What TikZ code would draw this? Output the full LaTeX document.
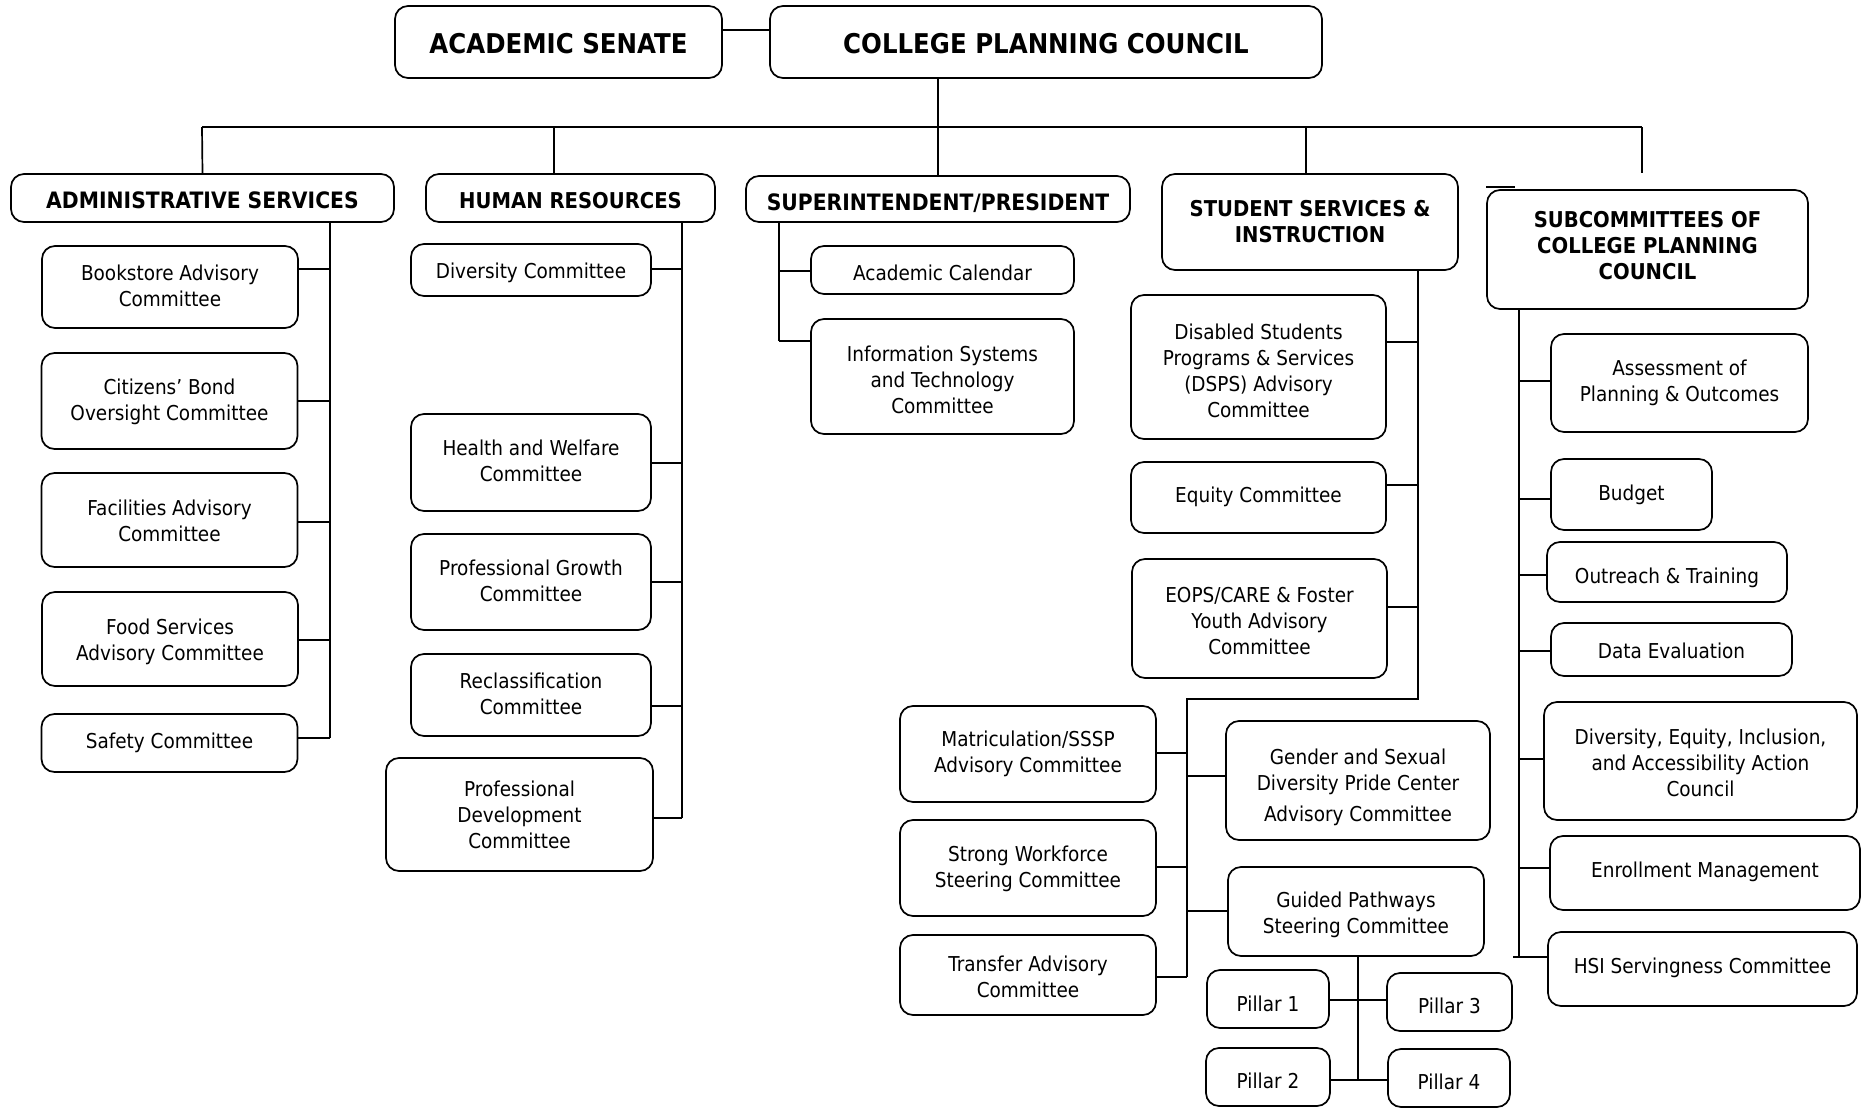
\documentclass[tikz,border=0pt]{standalone}
\usepackage{fontspec}
\setmainfont{DejaVu Sans}[FakeStretch=0.9]
% \orgbox[text drop]{style}{name}{centre}{width}{height}{text}
\newcommand\orgbox[7][0]{\node[#2, minimum width=#5pt, minimum height=#6pt] (#3) at (#4)
  {\raisebox{-#1pt}[\height][\depth]{\begin{tabular}{@{}c@{}}#7\end{tabular}}};}
\begin{document}
\begin{tikzpicture}[x=1pt, y=-1pt,
  box/.style={draw, line width=1.7pt, rounded corners=13pt, inner sep=0pt,
              font=\fontsize{20.5}{26}\selectfont},
  head/.style={box, font=\fontsize{21.8}{26}\selectfont\bfseries},
  headwide/.style={box, font=\fontsize{22.6}{26}\selectfont\bfseries},
  top/.style={box, font=\fontsize{27.2}{30}\selectfont\bfseries},
  link/.style={line width=1.7pt}]
\useasboundingbox (0,0) rectangle (1864,1108);

% ---------- top level ----------
\orgbox[5.8]{top}{senate}{558.5,42}{327}{72}{ACADEMIC SENATE}
\orgbox[5.8]{top}{cpc}{1046,42}{552}{72}{COLLEGE PLANNING COUNCIL}

% ---------- divisions ----------
\orgbox[5]{headwide}{adm}{202.5,198}{383}{48}{ADMINISTRATIVE SERVICES}
\orgbox[5]{head}{hr}{570.5,198}{289}{48}{HUMAN RESOURCES}
\orgbox[6.2]{headwide}{supt}{938,199}{384}{46}{SUPERINTENDENT/PRESIDENT}
\orgbox[2.4]{head}{ssi}{1310,222}{296}{96}{STUDENT SERVICES \&\\INSTRUCTION}
\orgbox[-1.1]{head}{sub}{1647.5,249.5}{321}{119}{SUBCOMMITTEES OF\\COLLEGE PLANNING\\COUNCIL}

% ---------- administrative services ----------
\orgbox[1.2]{box}{bk}{170,287}{256}{82}{Bookstore Advisory\\Committee}
\orgbox[1.2]{box}{cb}{169.5,401}{256}{96}{Citizens’ Bond\\Oversight Committee}
\orgbox[3.2]{box}{fa}{169.5,520}{256}{94}{Facilities Advisory\\Committee}
\orgbox[3.5]{box}{fs}{170,639}{256}{94}{Food Services\\Advisory Committee}
\orgbox{box}{sf}{169.5,743}{256}{58}{Safety Committee}

% ---------- human resources ----------
\orgbox[3.5]{box}{dv}{531,270}{240}{52}{Diversity Committee}
\orgbox[0.4]{box}{hw}{531,462.5}{240}{97}{Health and Welfare\\Committee}
\orgbox[1.2]{box}{pg}{531,582}{240}{96}{Professional Growth\\Committee}
\orgbox[1.2]{box}{rc}{531,695}{240}{82}{Reclassification\\Committee}
\orgbox[2.4]{box}{pd}{519.5,814.5}{267}{113}{Professional\\Development\\Committee}

% ---------- superintendent/president ----------
\orgbox[4.9]{box}{ac}{942.5,270}{263}{48}{Academic Calendar}
\orgbox[5.9]{box}{ist}{942.5,376.5}{263}{115}{Information Systems\\and Technology\\Committee}

% ---------- student services & instruction ----------
\orgbox[5.9]{box}{dsps}{1258.5,367}{255}{144}{Disabled Students\\Programs \& Services\\(DSPS) Advisory\\Committee}
\orgbox{box}{eq}{1258.5,497.5}{255}{71}{Equity Committee}
\orgbox[4.7]{box}{eops}{1259.5,618.5}{255}{119}{EOPS/CARE \& Foster\\Youth Advisory\\Committee}
\orgbox{box}{mat}{1028,754}{256}{96}{Matriculation/SSSP\\Advisory Committee}
\orgbox[1.2]{box}{sw}{1028,868}{256}{96}{Strong Workforce\\Steering Committee}
\orgbox[4.4]{box}{tr}{1028,975}{256}{80}{Transfer Advisory\\Committee}
\orgbox[7]{box}{gs}{1358,780.5}{264}{119}{Gender and Sexual\\Diversity Pride Center\\[5pt]Advisory Committee}
\orgbox[3.5]{box}{gp}{1356,911.5}{256}{89}{Guided Pathways\\Steering Committee}
\orgbox[7.1]{box}{pa}{1268,999}{122}{58}{Pillar 1}
\orgbox[5.9]{box}{pc}{1449.5,1002}{125}{58}{Pillar 3}
\orgbox[5.9]{box}{pb}{1268,1077}{124}{58}{Pillar 2}
\orgbox[5.9]{box}{pe}{1449,1078}{122}{58}{Pillar 4}

% ---------- subcommittees ----------
\orgbox{box}{ap}{1679.5,383}{257}{98}{Assessment of\\Planning \& Outcomes}
\orgbox[1.2]{box}{bu}{1631.5,494.5}{161}{71}{Budget}
\orgbox[6]{box}{ot}{1667,572}{240}{60}{Outreach \& Training}
\orgbox[3.6]{box}{de}{1671.5,649.5}{241}{53}{Data Evaluation}
\orgbox[4.4]{box}{dei}{1700.5,761}{313}{118}{Diversity, Equity, Inclusion,\\and Accessibility Action\\Council}
\orgbox[-1]{box}{em}{1705,873}{310}{74}{Enrollment Management}
\orgbox[-1]{box}{hsi}{1702.5,969}{309}{74}{HSI Servingness Committee}

% ---------- junction points ----------
\coordinate (sc) at (722,30);
\coordinate (busL) at (202,127);
\coordinate (busR) at (1642,127);
\coordinate (hrdrop) at (554,127);
\coordinate (ssidrop) at (1306,127);
\coordinate (subdrop) at (1642,173);
% trunk columns
\coordinate (tadm) at (330,0);
\coordinate (thr) at (682,0);
\coordinate (tsupt) at (779,0);
\coordinate (tssi) at (1418,0);
\coordinate (tpil) at (1358,0);
\coordinate (tsub) at (1519,0);

% ---------- connectors: top ----------
\draw[link] (senate.east |- sc) -- (cpc.west |- sc);
\draw[link] (cpc.south -| supt.north) -- (supt.north);
\draw[link] (busL) -- (busR);
\draw[link] (busL) -- (adm.north);
\draw[link] (hrdrop) -- (hrdrop |- hr.north);
\draw[link] (ssidrop) -- (ssidrop |- ssi.north);
\draw[link] (busR) -- (subdrop);
\draw[link] ([yshift=2pt]sub.north west) -- ++(29,0);

% ---------- connectors: administrative services ----------
\draw[link] (tadm |- adm.south) -- (330,738);
\draw[link] (bk.east |- 0,269) -- (330,269);
\draw[link] (cb.east) -- (tadm |- cb.east);
\draw[link] (fa.east |- 0,522) -- (330,522);
\draw[link] (fs.east |- 0,640) -- (330,640);
\draw[link] (sf.east |- 0,738) -- (330,738);

% ---------- connectors: human resources ----------
\draw[link] (thr |- hr.south) -- (682,818);
\draw[link] (dv.east |- 0,269) -- (682,269);
\draw[link] (hw.east |- 0,463) -- (682,463);
\draw[link] (pg.east) -- (thr |- pg.east);
\draw[link] (rc.east |- 0,706) -- (682,706);
\draw[link] (pd.east |- 0,818) -- (682,818);

% ---------- connectors: superintendent/president ----------
\draw[link] (tsupt |- supt.south) -- (779,341);
\draw[link] (ac.west |- 0,271) -- (779,271);
\draw[link] (ist.west |- 0,341) -- (779,341);

% ---------- connectors: student services & instruction ----------
\draw[link] (tssi |- ssi.south) -- (1418,699) -- (1187,699) -- (1187,977);
\draw[link] (dsps.east |- 0,342) -- (1418,342);
\draw[link] (eq.east |- 0,485) -- (1418,485);
\draw[link] (eops.east |- 0,607) -- (1418,607);
\draw[link] (mat.east |- 0,753) -- (1187,753);
\draw[link] (sw.east |- 0,867) -- (1187,867);
\draw[link] (tr.east |- 0,977) -- (1187,977);
\draw[link] (gs.west |- 0,776) -- (1187,776);
\draw[link] (gp.west |- 0,911) -- (1187,911);
\draw[link] (tpil |- gp.south) -- (1358,1080);
\draw[link] (pa.east |- 0,1000) -- (pc.west |- 0,1000);
\draw[link] (pb.east |- 0,1080) -- (pe.west |- 0,1080);

% ---------- connectors: subcommittees ----------
\draw[link] (tsub |- sub.south) -- (1519,957);
\draw[link] (ap.west |- 0,381) -- (1519,381);
\draw[link] (bu.west |- 0,499) -- (1519,499);
\draw[link] (ot.west |- 0,575) -- (1519,575);
\draw[link] (de.west |- 0,651) -- (1519,651);
\draw[link] (dei.west |- 0,759) -- (1519,759);
\draw[link] (em.west |- 0,868) -- (1519,868);
\draw[link] (hsi.west |- 0,957) -- (1513,957);
\end{tikzpicture}
\end{document}
